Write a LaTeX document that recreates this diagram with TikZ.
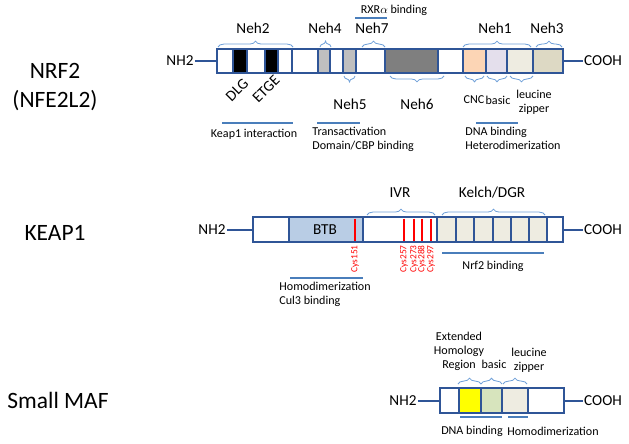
\documentclass[tikz,border=0pt]{standalone}
\usepackage{fontspec}
\setmainfont{Carlito}
\usetikzlibrary{decorations.pathreplacing}

\definecolor{vien}{HTML}{2F5597}
\definecolor{ngoac}{HTML}{6FA0D8}
\definecolor{gach}{HTML}{4A7EBB}
\definecolor{xam}{HTML}{BFBFBF}
\definecolor{xamdam}{HTML}{7F7F7F}
\definecolor{dao}{HTML}{FCD5B5}
\definecolor{tim}{HTML}{E4DFEC}
\definecolor{nga}{HTML}{EEECE1}
\definecolor{nau}{HTML}{DDD9C4}
\definecolor{lam}{HTML}{B9CDE5}
\definecolor{vang}{HTML}{FFFF00}
\definecolor{luc}{HTML}{D7E4BD}

\begin{document}
\begin{tikzpicture}[
        % --- THIẾT LẬP CHUNG ---
        x=0.03cm, y=-0.03cm, % 1 đơn vị = 1 điểm ảnh, trục y hướng xuống
        % Ô miền của protein
        segment/.style={
            draw=vien,
            line width=1.5pt
        },
        % Đoạn nối NH2 / COOH
        stub/.style={
            draw=vien,
            line width=1.7pt
        },
        % Ngoặc phía trên và phía dưới
        bracetop/.style={
            decorate,
            decoration={brace, amplitude=5pt},
            draw=ngoac,
            line width=0.7pt
        },
        bracebot/.style={
            decorate,
            decoration={brace, mirror, amplitude=5pt},
            draw=ngoac,
            line width=0.7pt
        },
        % Vạch chú thích chức năng
        band/.style={
            draw=gach,
            line width=1.3pt
        },
        % Các kiểu chữ
        protein/.style={font=\fontsize{20}{25.5}\selectfont, align=center},
        big/.style={font=\fontsize{13}{15}\selectfont, inner sep=1pt},
        small/.style={font=\fontsize{10.3}{12}\selectfont, inner sep=1pt},
        cys/.style={
            font=\fontsize{8}{9}\selectfont,
            text=red,
            inner sep=1pt,
            rotate=90,
            anchor=east
        }
    ]
    \useasboundingbox (0,0) rectangle (629,443);

    % --- HÀNG 1: NRF2 ---
    \begin{scope}
        \node[protein] (nrf2) at (55,87) {NRF2\\(NFE2L2)};

        % Các ô miền
        \foreach \a/\b/\c in {217/233/white, 233/247/black, 247/265/white,
                265/278/black, 278/292/white, 292/318/white, 318/330/xam,
                330/343/white, 343/356/xam, 356/385/white, 385/438/xamdam,
                438/463/white, 463/486/dao, 486/507/tim, 507/533/nga, 533/563/nau}
            \filldraw[segment, fill=\c] (\a,49) rectangle (\b,73);
        \coordinate (nrfL) at (217,61);
        \coordinate (nrfR) at (563,61);

        % Hai đầu
        \node[big] (nh2a) at (180,61) {NH2};
        \node[big] (cooha) at (603,61) {COOH};
        \draw[stub] (nh2a.east) -- (nrfL);
        \draw[stub] (nrfR) -- (cooha.west);

        % Ngoặc và nhãn phía trên
        \draw[bracetop] (218,47) -- (293,47);
        \draw[bracetop] (320,47) -- (331,47);
        \draw[bracetop] (362,47) -- (385,47);
        \draw[bracetop] (463,47) -- (531,47);
        \draw[bracetop] (536,47) -- (562,47);
        \node[big] (neh2) at (253,28) {Neh2};
        \node[big] (neh4) at (325,28) {Neh4};
        \node[big] (neh7) at (372,28) {Neh7};
        \node[big] (neh1) at (495,28) {Neh1};
        \node[big] (neh3) at (547,28) {Neh3};
        \node[small] (rxr) at (394,10) {RXR$\alpha$ binding};
        \draw[band] (355,18) -- (387,18);

        % Ngoặc và nhãn phía dưới
        \draw[bracebot] (344,76) -- (355,76);
        \draw[bracebot] (390,76) -- (444,76);
        \draw[bracebot] (465,76) -- (484,76);
        \draw[bracebot] (487,76) -- (507,76);
        \draw[bracebot] (510,76) -- (533,76);
        \node[big] (neh5) at (350,104) {Neh5};
        \node[big] (neh6) at (417,104) {Neh6};
        \node[small] (cnc) at (474,100) {CNC};
        \node[small] (basica) at (498,100) {basic};
        \node[small, align=center] (leua) at (534,102) {leucine\\zipper};
        \node[big, rotate=45, inner sep=0pt] (dlg) at (237,90) {DLG};
        \node[big, rotate=45, inner sep=0pt] (etge) at (266,89) {ETGE};

        % Vạch chức năng
        \draw[band] (222,123) -- (293,123);
        \draw[band] (317,123) -- (360,123);
        \draw[band] (476,123) -- (518,123);
        \node[small] (keap1int) at (254,134) {Keap1 interaction};
        \node[small, align=left, anchor=north west] (transact) at (311,126)
            {Transactivation\\Domain/CBP binding};
        \node[small, align=left, anchor=north west] (dnaa) at (464,126)
            {DNA binding\\Heterodimerization};
    \end{scope}

    % --- HÀNG 2: KEAP1 ---
    \begin{scope}
        \node[protein] (keap1) at (55,233) {KEAP1};

        % Các ô miền
        \foreach \a/\b/\c in {253/289/white, 289/363/lam, 363/437/white,
                437/456/nga, 456/474/nga, 474/493/nga, 493/511/nga,
                511/529/nga, 529/547/nga, 547/563/white}
            \filldraw[segment, fill=\c] (\a,217) rectangle (\b,242);
        \coordinate (keapL) at (253,230);
        \coordinate (keapR) at (563,230);
        \node[big] (btb) at (325,230) {BTB};

        % Các cystein
        \foreach \x/\n in {355/151, 404/257, 414/273, 422/288, 431/297} {
            \draw[red, line width=0.9pt] (\x,218.5) -- (\x,240.5);
            \node[cys] (cys\n) at (\x,244) {Cys\n};
        }

        % Hai đầu
        \node[big] (nh2b) at (212,230) {NH2};
        \node[big] (coohb) at (603,230) {COOH};
        \draw[stub] (nh2b.east) -- (keapL);
        \draw[stub] (keapR) -- (coohb.west);

        % Ngoặc và nhãn
        \draw[bracetop] (367,215) -- (435,215);
        \draw[bracetop] (442,215) -- (545,215);
        \node[big] (ivr) at (400,193) {IVR};
        \node[big] (kelch) at (492,193) {Kelch/DGR};

        % Vạch chức năng
        \draw[band] (290,278) -- (363,278);
        \draw[band] (442,253) -- (544,253);
        \node[small, align=left, anchor=north west] (homob) at (278,281)
            {Homodimerization\\Cul3 binding};
        \node[small] (nrf2bind) at (493,266) {Nrf2 binding};
    \end{scope}

    % --- HÀNG 3: SMALL MAF ---
    \begin{scope}
        \node[protein] (smaf) at (58,400) {Small MAF};

        % Các ô miền
        \foreach \a/\b/\c in {440/459/white, 459/481/vang, 481/502/luc,
                502/528/nga, 528/564/white}
            \filldraw[segment, fill=\c] (\a,388) rectangle (\b,413);
        \coordinate (mafL) at (440,401);
        \coordinate (mafR) at (564,401);

        % Hai đầu
        \node[big] (nh2c) at (403,401) {NH2};
        \node[big] (coohc) at (603,401) {COOH};
        \draw[stub] (nh2c.east) -- (mafL);
        \draw[stub] (mafR) -- (coohc.west);

        % Ngoặc và nhãn
        \draw[bracetop] (458,384) -- (481,384);
        \draw[bracetop] (481,384) -- (502,384);
        \draw[bracetop] (503,384) -- (527,384);
        \node[small, align=center] (ehr) at (459,351)
            {Extended\\Homology\\Region};
        \node[small] (basicc) at (494,364) {basic};
        \node[small, align=center] (leuc) at (529,360) {leucine\\zipper};

        % Vạch chức năng
        \draw[band] (460,417) -- (502,417);
        \draw[band] (508,417) -- (528,417);
        \node[small] (dnac) at (472,431) {DNA binding};
        \node[small] (homoc) at (553,431) {Homodimerization};
    \end{scope}

\end{tikzpicture}
\end{document}
